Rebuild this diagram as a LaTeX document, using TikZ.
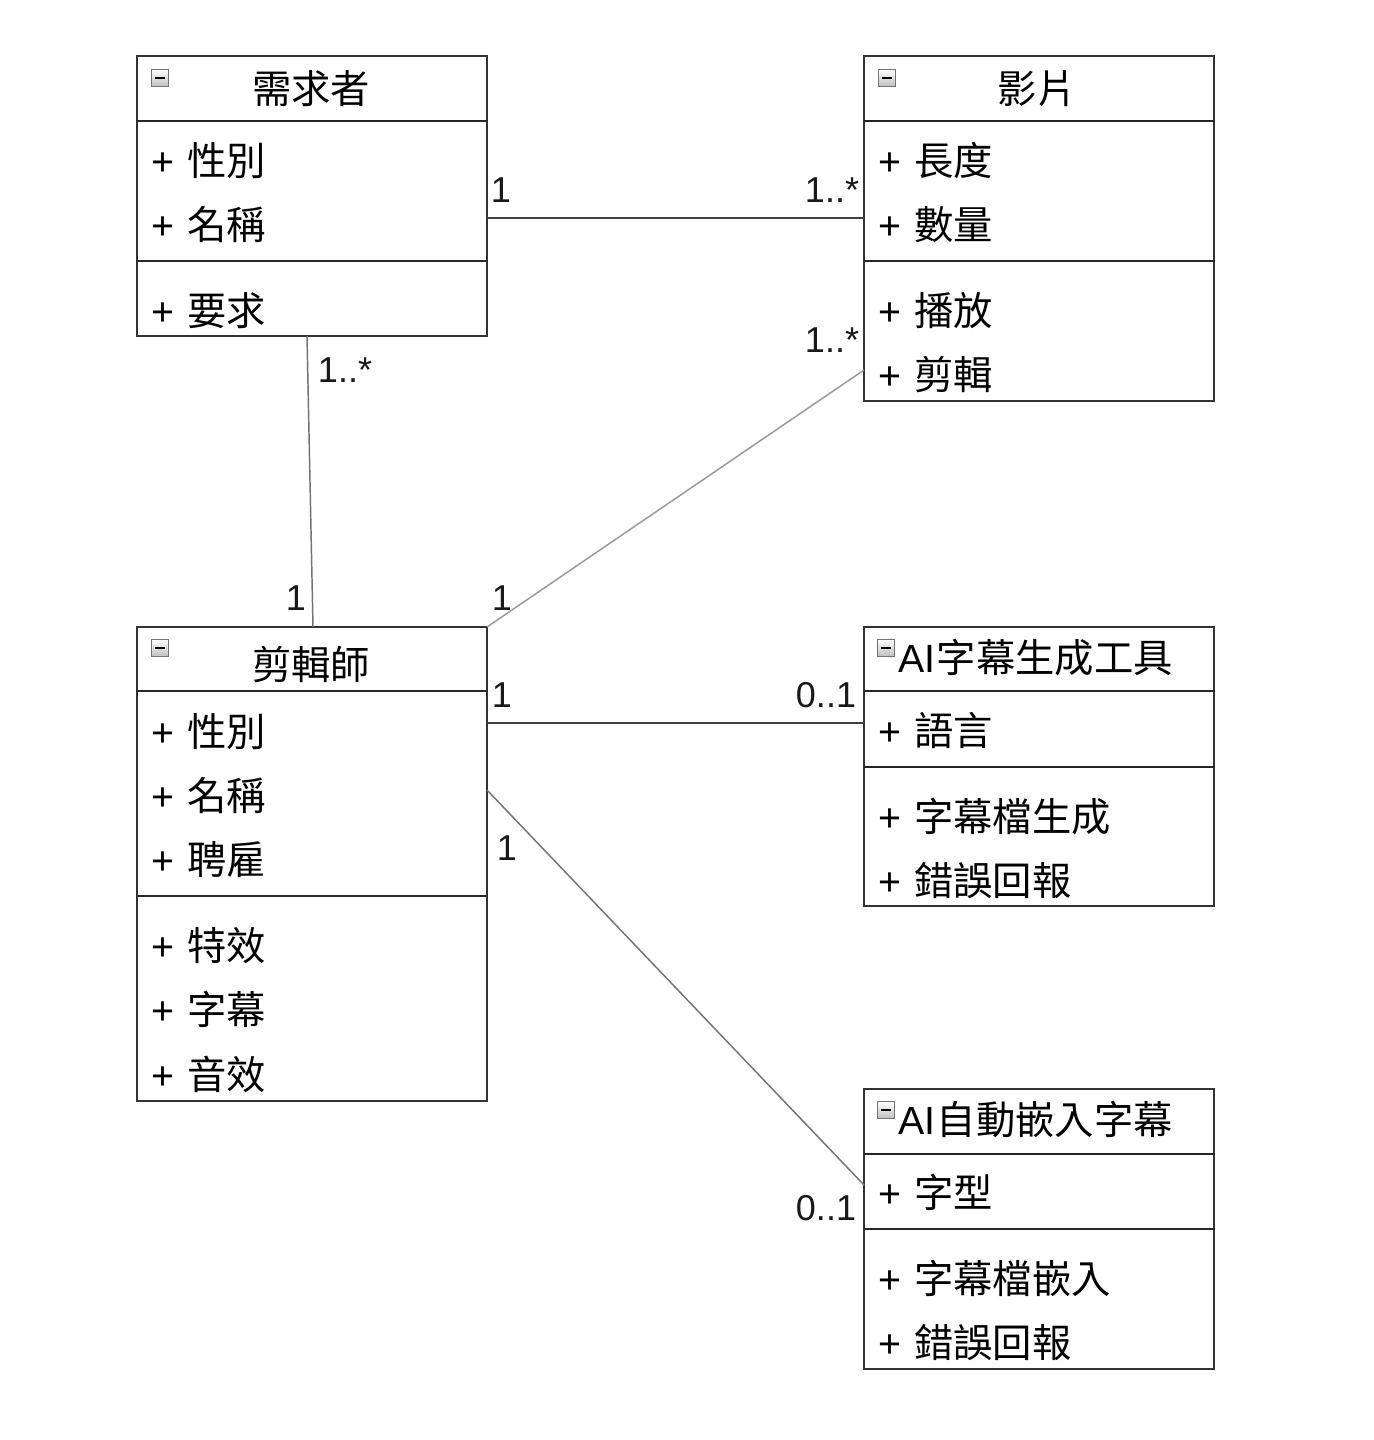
\documentclass[tikz,border=0pt]{standalone}
\usepackage{fontspec}
\setmainfont{Liberation Sans}
\newfontfamily\cjk{Noto Sans CJK TC}
\newcommand{\pl}{+\hspace{0.33em}}
\begin{document}
\begin{tikzpicture}[x=0.75pt,y=-0.75pt,
  cls/.style={draw=black!80, line width=1.5pt, anchor=north west, inner sep=0pt, outer sep=0pt, minimum width=262.5pt},
  sepline/.style={draw=black!85, line width=1.5pt},
  ttl/.style={font=\cjk\fontsize{29.5}{31}\selectfont, inner sep=0pt, text height=26pt, text depth=3.5pt},
  attr/.style={anchor=west, font=\fontsize{29.5}{31}\selectfont, inner sep=0pt, text height=26pt, text depth=3.5pt},
  mult/.style={font=\fontsize{27}{30}\selectfont, inner sep=0pt, text=black!90},
  assoc/.style={draw=black!75, line width=1.5pt},
  assocthin/.style={draw=black!55, line width=1.1pt},
  assocfaint/.style={draw=black!40, line width=1.1pt},
  icon/.style={draw=black!55, line width=0.8pt, top color=white, bottom color=black!25, minimum size=13pt, inner sep=0pt,
    path picture={\draw[line width=1.8pt, black] ([xshift=-3.8pt]path picture bounding box.center) -- ([xshift=3.8pt]path picture bounding box.center);}}
]
\useasboundingbox (0,0) rectangle (1374,1440);
\fill[white] (0,0) rectangle (1374,1440);

% 需求者
\node[cls, minimum height=210pt] (req) at (137,56) {};
\draw[sepline] (137,121) -- (487,121);
\draw[sepline] (137,261) -- (487,261);
\node[icon] (reqI) at (160,78) {};
\node[ttl] (reqT) at (311,88) {需求者};
\node[attr] (reqA1) at (151,160) {\pl{\cjk 性別}};
\node[attr] (reqA2) at (151,224) {\pl{\cjk 名稱}};
\node[attr] (reqO1) at (151,310) {\pl{\cjk 要求}};

% 影片
\node[cls, minimum height=258.75pt] (vid) at (864,56) {};
\draw[sepline] (864,121) -- (1214,121);
\draw[sepline] (864,261) -- (1214,261);
\node[icon] (vidI) at (887,78) {};
\node[ttl] (vidT) at (1037,88) {影片};
\node[attr] (vidA1) at (878,160) {\pl{\cjk 長度}};
\node[attr] (vidA2) at (878,224) {\pl{\cjk 數量}};
\node[attr] (vidO1) at (878,310) {\pl{\cjk 播放}};
\node[attr] (vidO2) at (878,374) {\pl{\cjk 剪輯}};

% 剪輯師
\node[cls, minimum height=355.5pt] (edt) at (137,627) {};
\draw[sepline] (137,691) -- (487,691);
\draw[sepline] (137,896) -- (487,896);
\node[icon] (edtI) at (160,648) {};
\node[ttl] (edtT) at (311,664) {剪輯師};
\node[attr] (edtA1) at (151,731) {\pl{\cjk 性別}};
\node[attr] (edtA2) at (151,795) {\pl{\cjk 名稱}};
\node[attr] (edtA3) at (151,859) {\pl{\cjk 聘雇}};
\node[attr] (edtO1) at (151,945) {\pl{\cjk 特效}};
\node[attr] (edtO2) at (151,1009) {\pl{\cjk 字幕}};
\node[attr] (edtO3) at (151,1074) {\pl{\cjk 音效}};

% AI字幕生成工具
\node[cls, minimum height=209.25pt] (gen) at (864,627) {};
\draw[sepline] (864,691) -- (1214,691);
\draw[sepline] (864,767) -- (1214,767);
\node[icon] (genI) at (886,648) {};
\node[attr] (genT) at (898,657) {AI\hspace{1pt}{\cjk 字幕生成工具}};
\node[attr] (genA1) at (878,730) {\pl{\cjk 語言}};
\node[attr] (genO1) at (878,816) {\pl{\cjk 字幕檔生成}};
\node[attr] (genO2) at (878,880) {\pl{\cjk 錯誤回報}};

% AI自動嵌入字幕
\node[cls, minimum height=210pt] (emb) at (864,1089) {};
\draw[sepline] (864,1154) -- (1214,1154);
\draw[sepline] (864,1229) -- (1214,1229);
\node[icon] (embI) at (886,1110) {};
\node[attr] (embT) at (898,1119) {AI\hspace{1pt}{\cjk 自動嵌入字幕}};
\node[attr] (embA1) at (878,1192) {\pl{\cjk 字型}};
\node[attr] (embO1) at (878,1278) {\pl{\cjk 字幕檔嵌入}};
\node[attr] (embO2) at (878,1342) {\pl{\cjk 錯誤回報}};

% connectors
\draw[assoc] (req.east |- 0,218) -- (vid.west |- 0,218);
\draw[assocthin] (req.south -| 307,0) -- (edt.north -| 313,0);
\draw[assocfaint] (vid.west |- 0,370) -- (edt.north east);
\draw[assoc] (edt.east |- 0,723) -- (gen.west |- 0,723);
\draw[assocthin] (edt.east |- 0,790) -- (emb.west |- 0,1185);

% multiplicities
\node[mult] (m1) at (501,190) {1};
\node[mult] (m2) at (832,190) {1..*};
\node[mult] (m3) at (345,370) {1..*};
\node[mult] (m4) at (296,598) {1};
\node[mult] (m5) at (832,340) {1..*};
\node[mult] (m6) at (502,598) {1};
\node[mult] (m7) at (502,695) {1};
\node[mult] (m8) at (826,695) {0..1};
\node[mult] (m9) at (507,848) {1};
\node[mult] (m10) at (826,1208) {0..1};
\end{tikzpicture}
\end{document}
